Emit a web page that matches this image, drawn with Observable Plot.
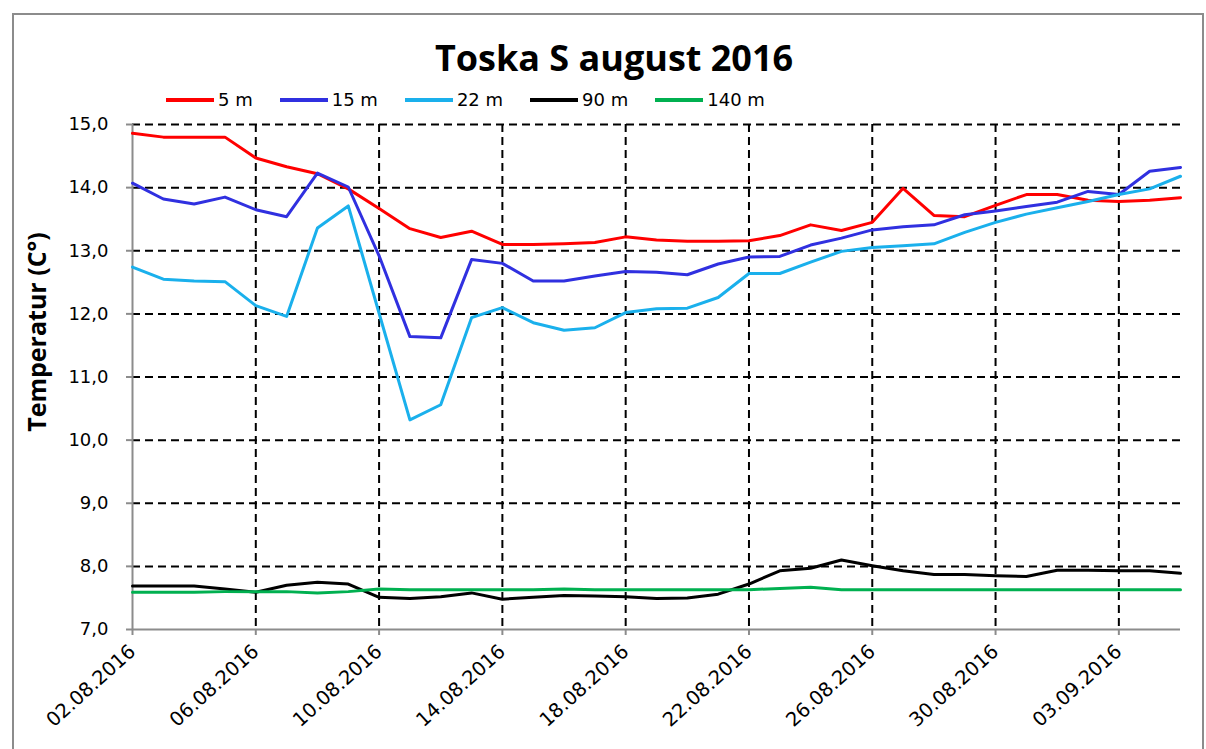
<!DOCTYPE html>
<html><head><meta charset="utf-8">
<script src="https://cdn.jsdelivr.net/npm/d3@7"></script>
<script src="https://cdn.jsdelivr.net/npm/@observablehq/plot@0.6"></script>
<style>
body{margin:0;background:#fff;}
#wrap{position:relative;width:1206px;height:749px;overflow:hidden;font-family:"DejaVu Sans",sans-serif;background:#fff;}
#frame{position:absolute;left:12px;top:13px;width:1192px;height:760px;border:2px solid #8c8c8c;box-sizing:border-box;}
#title{position:absolute;left:0;width:1228px;top:36px;text-align:center;font-weight:bold;font-size:36px;font-family:"Liberation Sans Narrow","Open Sans",sans-serif;line-height:44px;}
#legend{position:absolute;left:166px;top:89px;display:flex;align-items:center;font-size:18px;line-height:22px;}
.item{display:flex;align-items:center;margin-right:27px;}
.sw{width:48px;height:4px;margin-right:4px;}
#ytitle{position:absolute;left:36px;top:332px;transform:translate(-50%,-50%) rotate(-90deg);white-space:nowrap;font-weight:bold;font-size:25px;font-family:"Open Sans",sans-serif;}
#chart{position:absolute;left:0;top:110px;}
</style>
</head><body>
<div id="wrap">
  <div id="frame"></div>
  <div id="title">Toska S august 2016</div>
  <div id="legend"></div>
  <div id="ytitle">Temperatur (C°)</div>
  <div id="chart"></div>
</div>
<script>
const seriesNames = ["5 m", "15 m", "22 m", "90 m", "140 m"];
const seriesColors = ["#ff0000", "#3030e0", "#1ab0ec", "#000000", "#00b050"];
const dateStrings = ["2016-08-02","2016-08-03","2016-08-04","2016-08-05","2016-08-06","2016-08-07","2016-08-08","2016-08-09","2016-08-10","2016-08-11","2016-08-12","2016-08-13","2016-08-14","2016-08-15","2016-08-16","2016-08-17","2016-08-18","2016-08-19","2016-08-20","2016-08-21","2016-08-22","2016-08-23","2016-08-24","2016-08-25","2016-08-26","2016-08-27","2016-08-28","2016-08-29","2016-08-30","2016-08-31","2016-09-01","2016-09-02","2016-09-03","2016-09-04","2016-09-05"];
const m5   = [14.86,14.80,14.80,14.80,14.47,14.33,14.22,13.98,13.67,13.35,13.21,13.31,13.10,13.10,13.11,13.13,13.22,13.17,13.15,13.15,13.16,13.24,13.41,13.32,13.45,13.99,13.56,13.54,13.72,13.89,13.89,13.80,13.78,13.80,13.84];
const m15  = [14.07,13.82,13.74,13.85,13.65,13.54,14.23,14.01,12.92,11.64,11.62,12.86,12.80,12.52,12.52,12.60,12.67,12.66,12.62,12.79,12.90,12.91,13.09,13.20,13.33,13.38,13.41,13.57,13.63,13.70,13.77,13.94,13.89,14.26,14.32];
const m22  = [12.74,12.55,12.52,12.51,12.13,11.96,13.36,13.71,12.01,10.32,10.56,11.94,12.10,11.86,11.74,11.78,12.02,12.08,12.09,12.26,12.64,12.64,12.82,12.99,13.05,13.08,13.11,13.29,13.45,13.58,13.68,13.78,13.89,13.98,14.18];
const m90  = [7.69,7.69,7.69,7.64,7.59,7.70,7.75,7.72,7.51,7.49,7.52,7.58,7.48,7.51,7.54,7.53,7.52,7.49,7.50,7.56,7.72,7.93,7.97,8.10,8.01,7.93,7.87,7.87,7.85,7.84,7.94,7.94,7.93,7.93,7.89];
const m140 = [7.59,7.59,7.59,7.60,7.60,7.60,7.58,7.60,7.64,7.63,7.63,7.63,7.63,7.63,7.64,7.63,7.63,7.63,7.63,7.63,7.63,7.65,7.67,7.63,7.63,7.63,7.63,7.63,7.63,7.63,7.63,7.63,7.63,7.63,7.63];
const xTickStrings = ["2016-08-02","2016-08-06","2016-08-10","2016-08-14","2016-08-18","2016-08-22","2016-08-26","2016-08-30","2016-09-03"];
const yTicks = [7,8,9,10,11,12,13,14,15];

const parse = d3.utcParse("%Y-%m-%d");
const dates = dateStrings.map(parse);
const xTicks = xTickStrings.map(parse);
const allSeries = [m5, m15, m22, m90, m140];
const rows = [];
allSeries.forEach((vals, si) => vals.forEach((v, i) => rows.push({date: dates[i], value: v, series: seriesNames[si]})));

// legend
const legend = document.getElementById("legend");
seriesNames.forEach((n, i) => {
  const it = document.createElement("div"); it.className = "item";
  const sw = document.createElement("div"); sw.className = "sw"; sw.style.background = seriesColors[i];
  const tx = document.createElement("span"); tx.textContent = n;
  it.appendChild(sw); it.appendChild(tx); legend.appendChild(it);
});

const chart = Plot.plot({
  width: 1206, height: 639,
  marginTop: 14, marginLeft: 132, marginRight: 26, marginBottom: 120,
  style: {fontFamily: "DejaVu Sans, sans-serif", fontSize: "18px", color: "#000", background: "transparent", overflow: "visible"},
  x: {type: "utc", domain: [dates[0], dates[dates.length - 1]]},
  y: {domain: [7, 15]},
  color: {domain: seriesNames, range: seriesColors},
  marks: [
    Plot.ruleY(yTicks.slice(1), {stroke: "#000", strokeWidth: 2, strokeDasharray: "8,5"}),
    Plot.ruleX(xTicks.slice(1), {stroke: "#000", strokeWidth: 2, strokeDasharray: "8,5"}),
    Plot.ruleY([7], {stroke: "#8c8c8c", strokeWidth: 2}),
    Plot.ruleX([dates[0]], {stroke: "#8c8c8c", strokeWidth: 2}),
    Plot.axisY({ticks: yTicks, tickFormat: d => d.toFixed(1).replace(".", ","), tickSize: 6, tickPadding: 18, stroke: "#8c8c8c", strokeWidth: 2, label: null, fontSize: 18}),
    Plot.axisX({ticks: xTicks, tickFormat: d3.utcFormat("%d.%m.%Y"), tickSize: 6, tickPadding: 13, tickRotate: -42, stroke: "#8c8c8c", strokeWidth: 2, label: null, fontSize: 19.5}),
    Plot.line(rows, {x: "date", y: "value", z: "series", stroke: "series", strokeWidth: 3, strokeLinejoin: "round"})
  ]
});
document.getElementById("chart").appendChild(chart);
</script>
</body></html>
